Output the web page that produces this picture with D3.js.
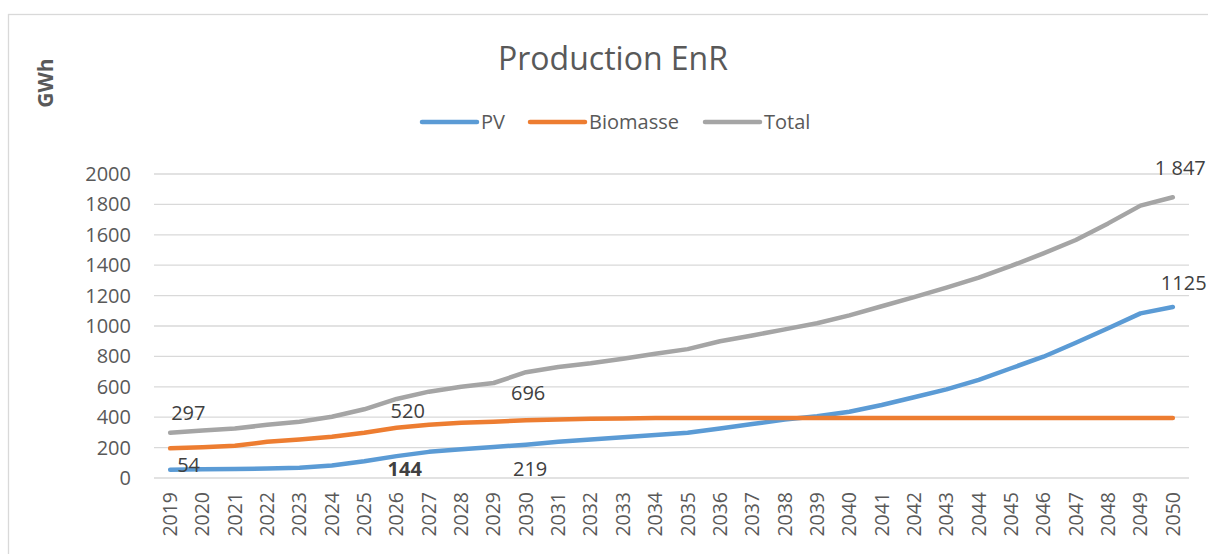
<!DOCTYPE html>
<html>
<head>
<meta charset="utf-8">
<script src="https://cdn.jsdelivr.net/npm/d3@7"></script>
<style>
  html, body { margin: 0; padding: 0; background: #fff; }
  svg { display: block; font-family: "Open Sans", "Noto Sans", sans-serif; }
</style>
</head>
<body>
<svg id="chart" width="1208" height="554"></svg>
<script>
// ---- data ----
const years = d3.range(2019, 2051).map(String);
const yTicks = [0, 200, 400, 600, 800, 1000, 1200, 1400, 1600, 1800, 2000];
const pv = [54, 58, 59, 62, 68, 82, 110, 144, 172, 189, 204, 219, 238, 253, 268, 283,
            298, 326, 355, 385, 406, 436, 480, 531, 583, 645, 722, 798, 890, 985, 1083, 1125];
const biomasse = [195, 202, 212, 238, 254, 272, 298, 330, 350, 364, 370, 380, 385, 389, 392, 395,
                  395, 395, 395, 395, 395, 395, 395, 395, 395, 395, 395, 395, 395, 395, 395, 395];
const total = [297, 313, 325, 350, 370, 403, 452, 520, 568, 600, 625, 696, 730, 755, 785, 818,
               848, 900, 938, 978, 1018, 1070, 1130, 1190, 1252, 1318, 1395, 1478, 1566, 1675, 1792, 1847];
const seriesNames = ["PV", "Biomasse", "Total"];
const seriesColors = ["#5b9bd5", "#ed7d31", "#a5a5a5"];
const seriesValues = [pv, biomasse, total];
// data labels: series index, year
const labelSeries = [2, 0, 2, 0, 2, 0, 2, 0];
const labelYears = ["2019", "2019", "2026", "2026", "2030", "2030", "2050", "2050"];

// ---- styling / placement (not data) ----
const labelStyle = [
  {dx: 1, dy: -13}, {dx: 7, dy: 2},
  {dx: -6, dy: 19}, {dx: -9, dy: 20, bold: true},
  {dx: -15, dy: 28}, {dx: -13, dy: 31},
  {dx: -18, dy: -22, sep: true}, {dx: -12, dy: -17}
];

const svg = d3.select("#chart");

// chart border
svg.append("rect").attr("x", 8.5).attr("y", 14.5).attr("width", 1300).attr("height", 700)
  .attr("fill", "#fff").attr("stroke", "#d9d9d9").attr("stroke-width", 1.3);

const x = d3.scaleBand().domain(years).range([154, 1189]).paddingInner(0).paddingOuter(0);
const y = d3.scaleLinear().domain([0, 2000]).range([478, 174]);
const cx = d => x(d) + x.bandwidth() / 2;

// gridlines
svg.append("g").selectAll("line").data(yTicks).join("line")
  .attr("x1", 154).attr("x2", 1189)
  .attr("y1", d => y(d)).attr("y2", d => y(d))
  .attr("stroke", "#d9d9d9").attr("stroke-width", 1.3);

// y axis labels
const yAxis = d3.axisLeft(y).tickValues(yTicks).tickSize(0).tickPadding(0).tickFormat(d3.format("d"));
const gy = svg.append("g").attr("transform", "translate(131,0)").call(yAxis);
gy.select(".domain").remove();
gy.selectAll("text").attr("font-size", 20).attr("fill", "#595959")
  .attr("font-family", "'Open Sans', sans-serif");

// x axis labels
const xAxis = d3.axisBottom(x).tickSize(0).tickPadding(0);
const gx = svg.append("g").attr("transform", "translate(0,492)").call(xAxis);
gx.select(".domain").remove();
gx.selectAll("text").attr("font-size", 19.5).attr("fill", "#595959")
  .attr("font-family", "'Open Sans', sans-serif")
  .attr("transform", "rotate(-90)")
  .attr("text-anchor", "end").attr("x", 0).attr("y", 0).attr("dy", "0.35em");

// lines
const line = d3.line().x((d, i) => cx(years[i])).y(d => y(d));
svg.append("g").selectAll("path").data(seriesValues).join("path")
  .attr("d", d => line(d))
  .attr("fill", "none")
  .attr("stroke", (d, i) => seriesColors[i])
  .attr("stroke-width", 4.5)
  .attr("stroke-linejoin", "round")
  .attr("stroke-linecap", "round");

// data labels
const fmtSep = d3.formatLocale({decimal: ",", thousands: " ", grouping: [3], currency: ["", "€"]}).format(",d");
svg.append("g").selectAll("text").data(labelYears).join("text")
  .attr("x", (d, i) => cx(d) + labelStyle[i].dx)
  .attr("y", (d, i) => y(seriesValues[labelSeries[i]][years.indexOf(d)]) + labelStyle[i].dy)
  .attr("font-size", 20)
  .attr("font-weight", (d, i) => labelStyle[i].bold ? "bold" : "normal")
  .attr("fill", "#404040")
  .text((d, i) => {
    const v = seriesValues[labelSeries[i]][years.indexOf(d)];
    return labelStyle[i].sep ? fmtSep(v) : String(v);
  });

// title
svg.append("text").attr("x", 613).attr("y", 70).attr("text-anchor", "middle")
  .attr("font-size", 32).attr("fill", "#595959").text("Production EnR");

// y axis title
svg.append("text").attr("transform", "translate(53,83) rotate(-90)")
  .attr("text-anchor", "middle").attr("font-size", 21).attr("font-weight", "bold")
  .attr("fill", "#595959").text("GWh");

// legend
const legendLineX = [422, 530, 705];
const lg = svg.append("g").selectAll("g").data(seriesNames).join("g")
  .attr("transform", (d, i) => `translate(${legendLineX[i]},122)`);
lg.append("line").attr("x1", 0).attr("x2", 55).attr("y1", 0).attr("y2", 0)
  .attr("stroke", (d, i) => seriesColors[i]).attr("stroke-width", 4.5).attr("stroke-linecap", "round");
lg.append("text").attr("x", 59).attr("y", 0).attr("dy", "0.35em")
  .attr("font-size", 20).attr("fill", "#595959").text(d => d);
</script>
</body>
</html>
